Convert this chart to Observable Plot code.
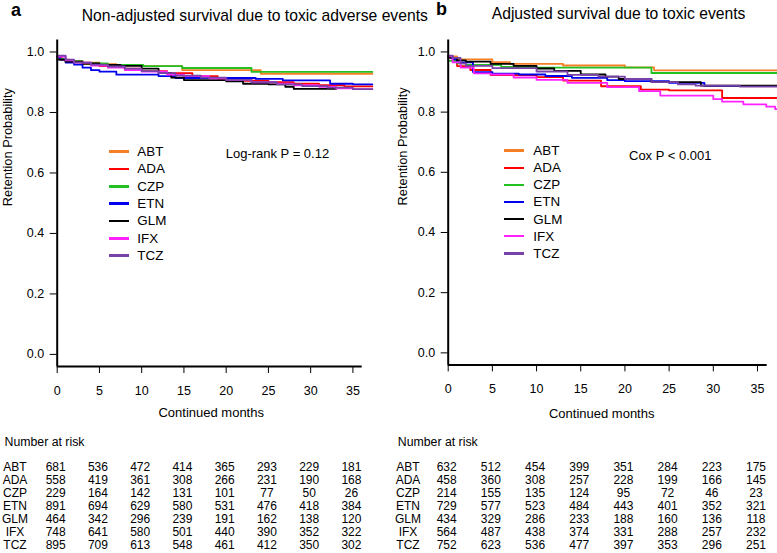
<!DOCTYPE html>
<html><head><meta charset="utf-8">
<script src="https://cdn.jsdelivr.net/npm/d3@7"></script>
<script src="https://cdn.jsdelivr.net/npm/@observablehq/plot@0.6"></script>
<style>
body{margin:0;background:#fff;}
#root{position:relative;width:777px;height:553px;overflow:hidden;font-family:"Liberation Sans",Arial,sans-serif;color:#000;background:#fff;}
.abs{position:absolute;white-space:nowrap;}
#root svg{position:absolute;overflow:visible;}
</style></head><body><div id="root"></div>
<script>
// ---- data ----
const drugs = ["ABT","ADA","CZP","ETN","GLM","IFX","TCZ"];
const drugColors = ["#F47F24","#FF0000","#22C022","#0000EE","#000000","#FF22FF","#7842A8"];
const monthTicks = [0,5,10,15,20,25,30,35];
const probTicks = [0,0.2,0.4,0.6,0.8,1.0];

// Panel a: non-adjusted survival, [month, probability] step points
const aABT = [[0,0.985],[0.5,0.975],[1.5,0.97],[3,0.965],[5,0.96],[7,0.957],[10,0.953],[14.8,0.94],[24.1,0.928],[37.3,0.928]];
const aADA = [[0,0.985],[0.5,0.975],[1,0.968],[3,0.96],[5,0.953],[8,0.945],[10,0.937],[13,0.93],[16,0.92],[19,0.912],[22,0.905],[25,0.9],[28,0.895],[31,0.89],[34,0.886],[37.3,0.886]];
const aCZP = [[0,0.977],[1,0.97],[3,0.962],[6,0.957],[10.2,0.953],[14.8,0.947],[23,0.934],[37.3,0.934]];
const aETN = [[0,0.985],[0.3,0.975],[1,0.965],[2,0.958],[3,0.948],[4,0.94],[5,0.935],[7,0.925],[12,0.92],[14,0.914],[23.5,0.911],[26.7,0.906],[32.3,0.895],[35,0.893],[37.3,0.893]];
const aGLM = [[0,0.975],[1,0.968],[3,0.962],[5,0.957],[7.5,0.954],[10,0.945],[12,0.93],[13.5,0.915],[15,0.907],[20,0.903],[22,0.895],[25,0.893],[27,0.885],[28,0.878],[33,0.878]];
const aIFX = [[0,0.985],[1,0.972],[2,0.965],[4,0.955],[6,0.948],[8,0.94],[10,0.935],[13,0.925],[15,0.92],[18,0.913],[20,0.908],[23,0.9],[26,0.895],[28,0.89],[31,0.885],[33,0.88],[35,0.877],[37.3,0.877]];
const aTCZ = [[0,0.988],[1,0.975],[2,0.965],[4,0.958],[6,0.952],[8,0.945],[10,0.937],[12,0.93],[14,0.922],[17,0.915],[20,0.908],[23,0.9],[26,0.893],[29,0.887],[32,0.882],[35,0.877],[37.3,0.877]];

// Panel b: adjusted survival
const bABT = [[0,0.985],[1,0.975],[5,0.966],[7,0.96],[13,0.955],[20,0.949],[23.3,0.939],[37.3,0.939]];
const bADA = [[0,0.985],[0.5,0.97],[1,0.953],[2.5,0.94],[4.8,0.923],[10,0.916],[13,0.905],[17.3,0.886],[21.8,0.875],[25,0.872],[31,0.847],[37.3,0.847]];
const bCZP = [[0,0.97],[1,0.962],[2,0.957],[6,0.95],[10,0.948],[23,0.93],[37.3,0.93]];
const bETN = [[0,0.985],[0.5,0.975],[1,0.965],[2.8,0.933],[5,0.928],[8,0.925],[11,0.92],[14,0.914],[18,0.906],[20,0.903],[25,0.897],[29,0.887],[37.3,0.887]];
const bGLM = [[0,0.98],[1,0.972],[2,0.968],[4.8,0.96],[7.4,0.954],[10,0.945],[12,0.937],[15,0.925],[17.8,0.918],[19.3,0.91],[23,0.9],[28.6,0.888],[37.3,0.888]];
const bIFX = [[0,0.985],[0.5,0.965],[1.4,0.948],[2.9,0.929],[4.8,0.925],[7.4,0.915],[10,0.907],[13.5,0.897],[18,0.883],[21.6,0.87],[24,0.855],[30,0.843],[31,0.835],[33.4,0.826],[36,0.818],[37,0.81],[37.3,0.81]];
const bTCZ = [[0,0.988],[0.5,0.98],[1.4,0.962],[2,0.954],[5,0.946],[10,0.935],[13.5,0.924],[17,0.918],[20,0.91],[23,0.9],[26,0.892],[28,0.888],[33,0.885],[37.3,0.885]];

// Numbers at risk at months 0,5,...,35
const riskA = [
  [681,536,472,414,365,293,229,181],
  [558,419,361,308,266,231,190,168],
  [229,164,142,131,101,77,50,26],
  [891,694,629,580,531,476,418,384],
  [464,342,296,239,191,162,138,120],
  [748,641,580,501,440,390,352,322],
  [895,709,613,548,461,412,350,302]
];
const riskB = [
  [632,512,454,399,351,284,223,175],
  [458,360,308,257,228,199,166,145],
  [214,155,135,124,95,72,46,23],
  [729,577,523,484,443,401,352,321],
  [434,329,286,233,188,160,136,118],
  [564,487,438,374,331,288,257,232],
  [752,623,536,477,397,353,296,251]
];

const xDomain = [0, 36.1];
const yDomain = [-0.04, 1.04];
const FONT = '"Liberation Sans", Arial, sans-serif';

// ---- builders ----
function chart(curves, o) {
  const data = drugs.flatMap((d, i) => curves[i].map(([t, s]) => ({drug: d, t, s})));
  return Plot.plot({
    width: o.width, height: 430,
    marginLeft: o.ml, marginRight: o.mr, marginTop: 39.4, marginBottom: o.mb,
    x: {domain: xDomain},
    y: {domain: yDomain},
    color: {domain: drugs, range: drugColors},
    style: {fontFamily: FONT, fontSize: "12.5px", background: "transparent", color: "#000"},
    marks: [
      Plot.line(data, {x: "t", y: "s", z: "drug", stroke: "drug", curve: "step-after", strokeWidth: 1.8}),
      Plot.ruleX([xDomain[0]], {strokeWidth: 2}),
      Plot.ruleY([yDomain[0]], {strokeWidth: 2}),
      Plot.axisY({ticks: probTicks, tickFormat: d3.format(".1f"), tickSize: 7, tickPadding: 6, label: null, fontSize: 12.5}),
      Plot.axisX({ticks: monthTicks, tickSize: 7, tickPadding: 12.5, label: null, fontSize: 12.5}),
      Plot.text(["Continued months"], {frameAnchor: "bottom", dx: o.xlabDx, dy: o.xlabDy, fontSize: 13}),
      Plot.text(["Retention Probability"], {frameAnchor: "left", rotate: -90, dx: o.ylabDx, dy: 3, fontSize: 12.8})
    ]
  });
}

function table(risk, o) {
  const rows = drugs.flatMap((d, i) => risk[i].map((n, j) => ({drug: d, t: monthTicks[j], n})));
  return Plot.plot({
    width: o.width, height: 123,
    marginLeft: o.ml, marginRight: o.mr, marginTop: 35.7, marginBottom: 7.3,
    x: {domain: xDomain, axis: null},
    y: {type: "point", domain: drugs, padding: 0, axis: null},
    style: {fontFamily: FONT, fontSize: "12px", background: "transparent", color: "#000"},
    marks: [
      Plot.text(rows, {x: "t", y: "drug", text: d => String(d.n), dx: -1.5, fontSize: 12}),
      Plot.text(drugs, {y: d => d, text: d => d, frameAnchor: "left", textAnchor: "middle", dx: o.labDx, fontSize: 12}),
      Plot.text(["Number at risk"], {frameAnchor: "top-left", textAnchor: "start", lineAnchor: "middle", dx: o.nrDx, dy: -24, fontSize: 12.3})
    ]
  });
}

function place(el, left, top) { el.style.left = left + "px"; el.style.top = top + "px"; root.appendChild(el); }
function label(text, left, top, fs, extra) {
  const d = document.createElement("div");
  d.className = "abs";
  d.textContent = text;
  d.style.fontSize = fs + "px";
  d.style.lineHeight = fs + "px";
  if (extra) Object.assign(d.style, extra);
  place(d, left, top);
}
function legend(lineLeft, textLeft, firstY, step) {
  drugs.forEach((d, i) => {
    const cy = firstY + i * step;
    const ln = document.createElement("div");
    ln.className = "abs";
    Object.assign(ln.style, {width: "20px", height: "2.6px", background: drugColors[i]});
    place(ln, lineLeft, cy - 1.3);
    label(d, textLeft, cy - 6.6, 13.4);
  });
}

const root = document.getElementById("root");

// Panel a
place(chart([aABT, aADA, aCZP, aETN, aGLM, aIFX, aTCZ], {width: 390, ml: 56.7, mr: 28.3, mb: 64, xlabDx: 1.5, xlabDy: 50, ylabDx: -49}), 0, 0);
place(table(riskA, {width: 390, ml: 56.7, mr: 28.3, labDx: -42.2, nrDx: -52.7}), 0, 430);
label("a", 11, 0.8, 18, {fontWeight: "bold"});
label("Non-adjusted survival due to toxic adverse events", 81.7, 7.6, 15.7);
legend(109, 137.3, 151.7, 17.33);
label("Log-rank P = 0.12", 225.7, 146.9, 13);

// Panel b
place(chart([bABT, bADA, bCZP, bETN, bGLM, bIFX, bTCZ], {width: 387, ml: 57.7, mr: 10.3, mb: 65.6, xlabDx: -6, xlabDy: 52.6, ylabDx: -45}), 390, 0);
place(table(riskB, {width: 387, ml: 57.7, mr: 10.3, labDx: -40.2, nrDx: -50.4}), 390, 430);
label("b", 436, -0.2, 18, {fontWeight: "bold"});
label("Adjusted survival due to toxic events", 491.7, 6.4, 15.7);
legend(504.3, 533.3, 150.7, 17.1);
label("Cox P < 0.001", 629, 148.6, 13);
</script></body></html>
